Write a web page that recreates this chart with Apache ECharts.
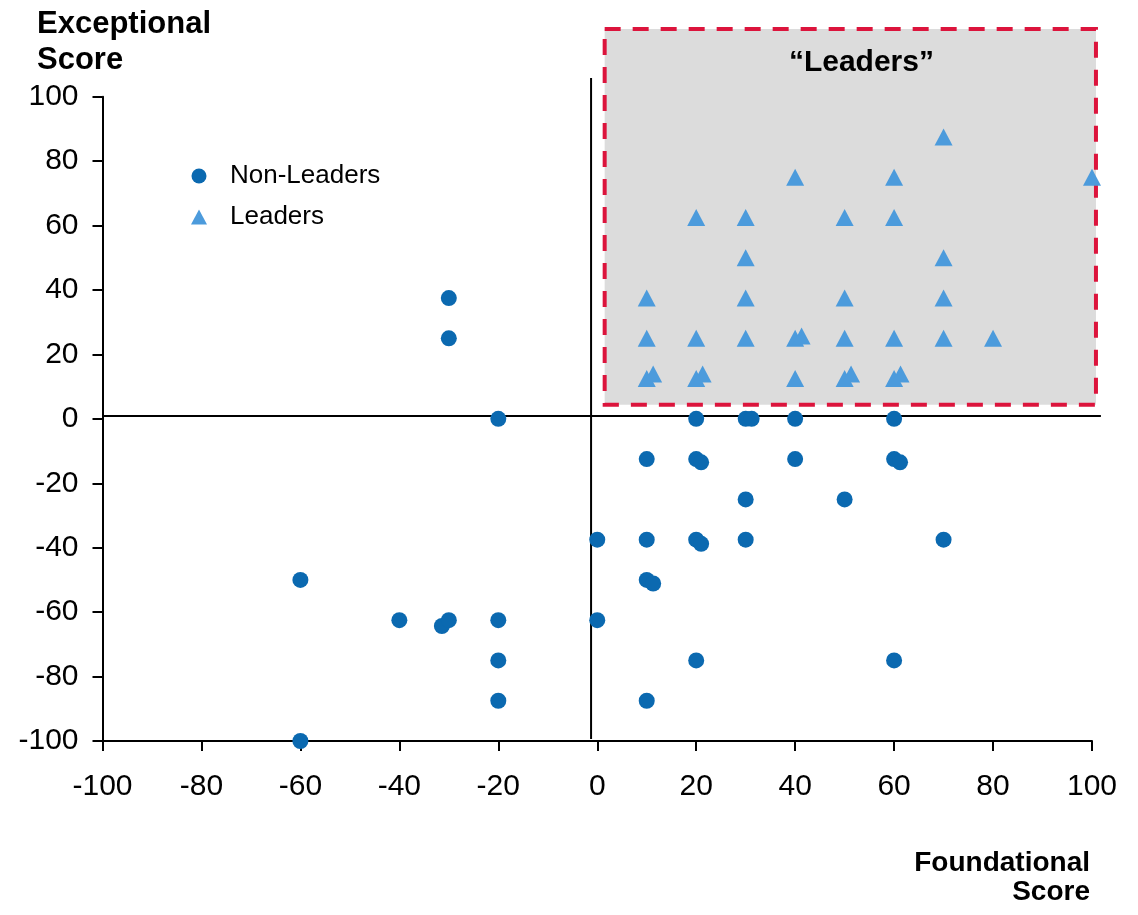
<!DOCTYPE html>
<html>
<head>
<meta charset="utf-8">
<script src="https://cdn.jsdelivr.net/npm/echarts@6/dist/echarts.min.js"></script>
<style>
  html, body { margin: 0; padding: 0; background: #ffffff; }
  #chart { width: 1138px; height: 915px; }
</style>
</head>
<body>
<div id="chart"></div>
<script>
// Foundational (x) vs Exceptional (y) scores, one [x, y] pair per company
const nonLeaders = [
  [-30, 37.5], [-30, 25], [-20, 0],
  [20, 0], [30, 0], [31.2, 0], [40, 0], [60, 0],
  [10, -12.5], [20, -12.5], [21, -13.5], [40, -12.5], [60, -12.5], [61.2, -13.5],
  [30, -25], [50, -25],
  [0, -37.5], [10, -37.5], [20, -37.5], [21, -38.8], [30, -37.5], [70, -37.5],
  [-60, -50], [10, -50], [11.3, -51.1],
  [-40, -62.5], [-31.4, -64.3], [-30, -62.5], [-20, -62.5], [0, -62.5],
  [-20, -75], [20, -75], [60, -75],
  [-20, -87.5], [10, -87.5],
  [-60, -100]
];

const leaders = [
  [70, 87.5],
  [40, 75], [60, 75], [100, 75],
  [20, 62.5], [30, 62.5], [50, 62.5], [60, 62.5],
  [30, 50], [70, 50],
  [10, 37.5], [30, 37.5], [50, 37.5], [70, 37.5],
  [10, 25], [20, 25], [30, 25], [40, 25], [41.3, 25.7], [50, 25], [60, 25], [70, 25], [80, 25],
  [10, 12.5], [11.3, 13.9], [20, 12.5], [21.3, 13.9], [40, 12.5],
  [50, 12.5], [51.3, 13.9], [60, 12.5], [61.3, 13.9]
];

// Axis range and tick step (both axes)
const axisMin = -100;
const axisMax = 100;
const axisStep = 20;

// "Leaders" zone in score units: [xFrom, yFrom, xTo, yTo]
const leaderZone = [1.5, 4.4, 100.8, 121];
const leaderZoneTitle = '\u201CLeaders\u201D';
const leaderZoneTitleAt = [53.4, 110.5];

// Quadrant dividers in score units
const dividerV = [-1.25, -99.4, 105.8];   // x, yFrom, yTo
const dividerH = [0.87, -100, 101.8];     // y, xFrom, xTo

const seriesNames = ['Non-Leaders', 'Leaders'];

const FONT = '"Liberation Sans", Arial, Helvetica, sans-serif';
const DARK_BLUE = '#0b69b0';
const LIGHT_BLUE = '#4c9bdc';
const ZONE_RED = '#dc143c';
const ZONE_GREY = '#dcdcdc';

const chart = echarts.init(document.getElementById('chart'), null, { renderer: 'canvas' });

const option = {
  animation: false,
  backgroundColor: '#ffffff',
  textStyle: { fontFamily: FONT },
  grid: {
    left: 102.5,
    right: 46,
    top: 96.7,
    bottom: 174,
    containLabel: false,
    outerBoundsMode: 'none'
  },
  legend: {
    data: seriesNames,
    orient: 'vertical',
    left: 186,
    top: 158,
    itemWidth: 16,
    itemHeight: 15,
    itemGap: 15,
    selectedMode: false,
    textStyle: {
      fontFamily: FONT,
      fontSize: 26,
      color: '#000000',
      padding: [0, 0, 0, 18]
    }
  },
  xAxis: {
    type: 'value',
    min: axisMin,
    max: axisMax,
    interval: axisStep,
    splitLine: { show: false },
    axisLine: { show: true, onZero: false, lineStyle: { color: '#000000', width: 2 } },
    axisTick: { show: true, inside: false, length: 10, lineStyle: { color: '#000000', width: 2 } },
    axisLabel: { fontFamily: FONT, fontSize: 30, color: '#000000', margin: 31 }
  },
  yAxis: {
    type: 'value',
    min: axisMin,
    max: axisMax,
    interval: axisStep,
    splitLine: { show: false },
    axisLine: { show: true, onZero: false, lineStyle: { color: '#000000', width: 2 } },
    axisTick: { show: true, inside: false, length: 10, lineStyle: { color: '#000000', width: 2 } },
    axisLabel: { fontFamily: FONT, fontSize: 30, color: '#000000', margin: 24 }
  },
  graphic: [
    {
      type: 'text',
      x: 37,
      y: 42.5,
      style: {
        text: 'Exceptional\nScore',
        font: 'bold 31px ' + FONT,
        lineHeight: 36.6,
        fill: '#000000',
        align: 'left',
        verticalAlign: 'middle'
      }
    },
    {
      type: 'text',
      x: 1090,
      y: 878,
      style: {
        text: 'Foundational\nScore',
        font: 'bold 28px ' + FONT,
        lineHeight: 29.2,
        fill: '#000000',
        align: 'right',
        verticalAlign: 'middle'
      }
    }
  ],
  series: [
    {
      // shaded "Leaders" zone with dashed outline and its caption
      type: 'custom',
      name: 'zone',
      silent: true,
      clip: false,
      z: 1,
      encode: { x: [0, 2], y: [1, 3] },
      data: [leaderZone],
      renderItem: function (params, api) {
        const p0 = api.coord([api.value(0), api.value(3)]);
        const p1 = api.coord([api.value(2), api.value(1)]);
        const tp = api.coord(leaderZoneTitleAt);
        return {
          type: 'group',
          children: [
            {
              type: 'rect',
              shape: { x: p0[0], y: p0[1], width: p1[0] - p0[0], height: p1[1] - p0[1] },
              style: {
                fill: ZONE_GREY,
                stroke: ZONE_RED,
                lineWidth: 4,
                lineDash: [16, 12]
              }
            },
            {
              type: 'text',
              x: tp[0],
              y: tp[1],
              style: {
                text: leaderZoneTitle,
                font: 'bold 30px ' + FONT,
                fill: '#000000',
                align: 'center',
                verticalAlign: 'middle'
              }
            }
          ]
        };
      }
    },
    {
      // quadrant divider lines
      type: 'custom',
      name: 'dividers',
      silent: true,
      clip: false,
      z: 2,
      data: [[dividerV[0], dividerH[0]]],
      renderItem: function (params, api) {
        const v0 = api.coord([dividerV[0], dividerV[1]]);
        const v1 = api.coord([dividerV[0], dividerV[2]]);
        const h0 = api.coord([dividerH[1], dividerH[0]]);
        const h1 = api.coord([dividerH[2], dividerH[0]]);
        return {
          type: 'group',
          children: [
            {
              type: 'line',
              shape: { x1: v0[0], y1: v0[1], x2: v1[0], y2: v1[1] },
              style: { stroke: '#000000', lineWidth: 2 }
            },
            {
              type: 'line',
              shape: { x1: h0[0], y1: h0[1], x2: h1[0], y2: h1[1] },
              style: { stroke: '#000000', lineWidth: 2 }
            }
          ]
        };
      }
    },
    {
      type: 'scatter',
      name: seriesNames[0],
      data: nonLeaders,
      symbol: 'circle',
      symbolSize: 16,
      z: 3,
      clip: false,
      itemStyle: { color: DARK_BLUE, opacity: 1 }
    },
    {
      type: 'scatter',
      name: seriesNames[1],
      data: leaders,
      symbol: 'triangle',
      symbolSize: [18, 17],
      z: 4,
      clip: false,
      itemStyle: { color: LIGHT_BLUE, opacity: 1 }
    }
  ]
};

chart.setOption(option);
</script>
</body>
</html>
